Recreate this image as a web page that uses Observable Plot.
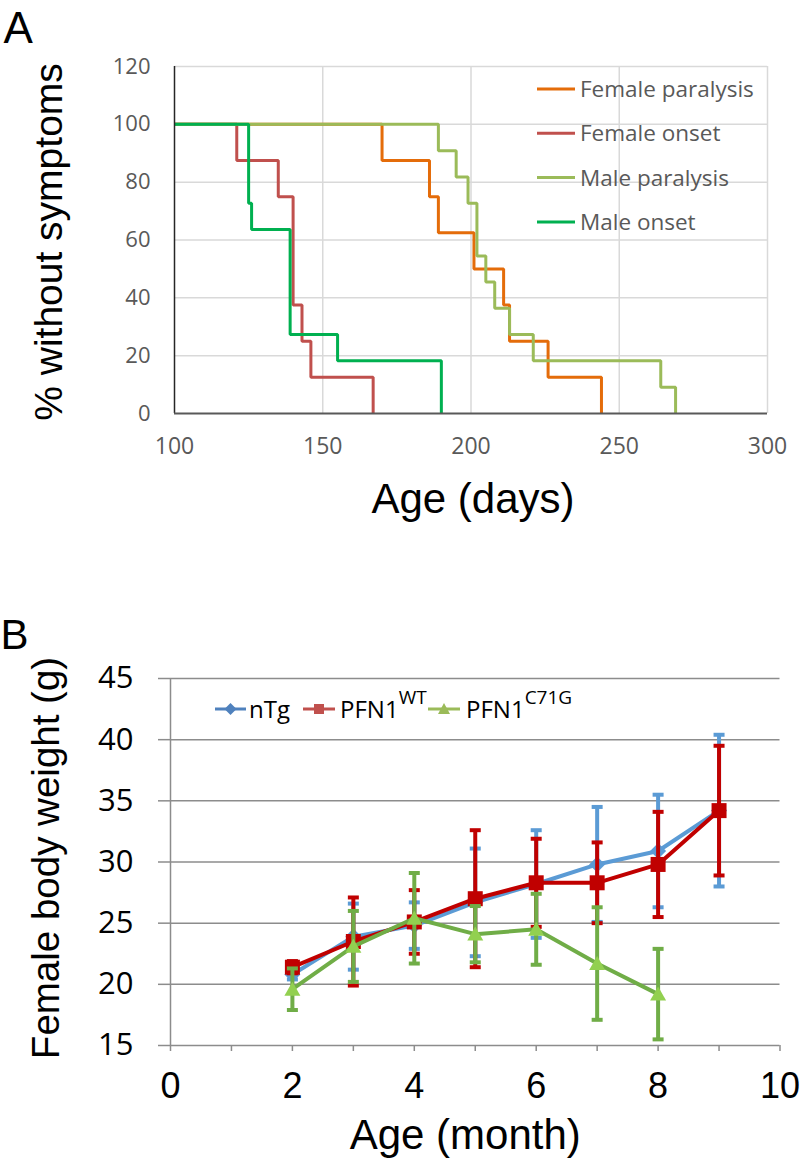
<!DOCTYPE html>
<html><head><meta charset="utf-8">
<script src="https://cdn.jsdelivr.net/npm/d3@7"></script>
<script src="https://cdn.jsdelivr.net/npm/@observablehq/plot@0.6"></script>
<style>
html,body{margin:0;padding:0;background:#fff;}
#wrap{position:relative;width:810px;height:1165px;overflow:hidden;background:#fff;}
#wrap svg{position:absolute;left:0;}
</style></head><body><div id="wrap"></div>
<script>
// ---------- Panel A: Kaplan-Meier style step curves ----------
const femaleParalysisDays = [100, 170, 186, 189, 201, 211, 213, 226, 244];
const femaleParalysisPct  = [100, 87.5, 75, 62.5, 50, 37.5, 25, 12.5, 0];
const femaleOnsetDays     = [100, 121, 135, 140, 143, 146, 167];
const femaleOnsetPct      = [100, 87.5, 75, 37.5, 25, 12.5, 0];
const maleParalysisDays   = [100, 189, 195, 199, 202, 205, 208, 213, 221, 264, 269];
const maleParalysisPct    = [100, 90.9, 81.8, 72.7, 54.5, 45.5, 36.4, 27.3, 18.2, 9.1, 0];
const maleOnsetDays       = [100, 125, 126, 139, 155, 190];
const maleOnsetPct        = [100, 72.7, 63.6, 27.3, 18.2, 0];
const seriesA = ["Female paralysis", "Female onset", "Male paralysis", "Male onset"];
const colorsA = ["#e46c0a", "#c0504d", "#9bbb59", "#00b050"];
const xTicksA = [100, 150, 200, 250, 300];
const yTicksA = [0, 20, 40, 60, 80, 100, 120];

// ---------- Panel B: female body weight ----------
const monthsB = [2, 3, 4, 5, 6, 7, 8, 9];
const nTgMean = [20.8, 23.9, 24.8, 26.7, 28.2, 29.8, 30.9, 34.2];
const nTgErr  = [0.4, 2.7, 1.9, 4.4, 4.4, 4.7, 4.6, 6.2];
const wtMean  = [21.4, 23.5, 25.1, 27.0, 28.3, 28.3, 29.8, 34.2];
const wtErr   = [0.5, 3.6, 2.6, 5.6, 3.6, 3.3, 4.3, 5.3];
const c71gMonths = [2, 3, 4, 5, 6, 7, 8];
const c71gMean = [19.6, 23.1, 25.4, 24.1, 24.5, 21.7, 19.2];
const c71gErr  = [1.7, 2.9, 3.7, 2.3, 2.9, 4.6, 3.7];
const xTicksB = [0, 1, 2, 3, 4, 5, 6, 7, 8, 9, 10];
const xLabelTicksB = [0, 2, 4, 6, 8, 10];
const yTicksB = [15, 20, 25, 30, 35, 40, 45];

const TITLE_FONT = "'Liberation Sans', Arial, sans-serif";
const TICK_FONT = "'Open Sans', sans-serif";

// tidy rows for panel A
const curvesA = [[femaleParalysisDays, femaleParalysisPct], [femaleOnsetDays, femaleOnsetPct],
                 [maleParalysisDays, maleParalysisPct], [maleOnsetDays, maleOnsetPct]];
const rowsA = [];
curvesA.forEach(([days, pct], k) => days.forEach((d, i) => rowsA.push({series: seriesA[k], day: d, pct: pct[i]})));

const titleOpts = {fontFamily: TITLE_FONT, fill: "black", lineAnchor: "middle", textAnchor: "middle"};

const plotA = Plot.plot({
  width: 810, height: 540,
  marginLeft: 174, marginRight: 43, marginTop: 66, marginBottom: 127,
  x: {domain: [100, 300]},
  y: {domain: [0, 120]},
  color: {domain: seriesA, range: colorsA},
  style: {fontFamily: TICK_FONT, fontSize: "21px", color: "#595959", background: "white"},
  marks: [
    Plot.ruleY(yTicksA.filter(v => v > 0), {stroke: "#d9d9d9", strokeWidth: 1.5}),
    Plot.ruleX(xTicksA.filter(v => v > 100), {stroke: "#d9d9d9", strokeWidth: 1.5}),
    Plot.line(rowsA, {x: "day", y: "pct", z: "series", stroke: "series", curve: "step-after", strokeWidth: 3, strokeLinecap: "butt", strokeLinejoin: "miter"}),
    Plot.ruleX([100], {stroke: "#262626", strokeWidth: 1.5}),
    Plot.ruleY([0], {stroke: "#595959", strokeWidth: 2}),
    Plot.axisY({ticks: yTicksA, tickSize: 0, tickPadding: 24, fontSize: 22, fill: "#595959", label: null}),
    Plot.axisX({ticks: xTicksA, tickSize: 0, tickPadding: 24, fontSize: 23, fill: "#595959", label: null}),
    Plot.text(["% without symptoms"], {...titleOpts, frameAnchor: "left", rotate: -90, dx: -124.5, dy: 2, fontSize: 39}),
    Plot.text(["Age (days)"], {...titleOpts, frameAnchor: "bottom", dx: 2, dy: 85.6, fontSize: 42}),
    Plot.text(["A"], {...titleOpts, frameAnchor: "top-left", textAnchor: "start", dx: -171, dy: -38, fontSize: 44})
  ]
});

// legend A
{
  const g = d3.select(plotA).append("g").attr("font-family", TICK_FONT).attr("font-size", 22.5)
    .attr("fill", "#595959").attr("text-anchor", "start");
  seriesA.forEach((s, i) => {
    const cy = 89 + i * 44.3;
    g.append("line").attr("x1", 537).attr("x2", 575).attr("y1", cy).attr("y2", cy)
      .attr("stroke", colorsA[i]).attr("stroke-width", 3);
    g.append("text").attr("x", 580).attr("y", cy + 8).attr("text-anchor", "start").text(s);
  });
}

// ---------- Panel B ----------
const symDiamond = {draw(ctx, size) { const r = Math.sqrt(size / Math.PI); ctx.moveTo(0, -r); ctx.lineTo(r, 0); ctx.lineTo(0, r); ctx.lineTo(-r, 0); ctx.closePath(); }};
const symSquare = {draw(ctx, size) { const r = Math.sqrt(size / Math.PI); ctx.moveTo(-r, -r); ctx.lineTo(r, -r); ctx.lineTo(r, r); ctx.lineTo(-r, r); ctx.closePath(); }};
const symTriangle = {draw(ctx, size) { const r = Math.sqrt(size / Math.PI); ctx.moveTo(0, -r * 0.95); ctx.lineTo(r, r * 0.8); ctx.lineTo(-r, r * 0.8); ctx.closePath(); }};
const symCap = {draw(ctx, size) { const r = Math.sqrt(size / Math.PI); ctx.moveTo(-r, 0); ctx.lineTo(r, 0); }};

function seriesB(months, mean, err) {
  return months.map((m, i) => ({month: m, mean: mean[i], lo: mean[i] - err[i], hi: mean[i] + err[i]}));
}
const nTgRows = seriesB(monthsB, nTgMean, nTgErr);
const wtRows = seriesB(monthsB, wtMean, wtErr);
const c71gRows = seriesB(c71gMonths, c71gMean, c71gErr);

function seriesMarks(rows, lineColor, barColor, markColor, symbol, r) {
  return [
    Plot.ruleX(rows, {x: "month", y1: "lo", y2: "hi", stroke: barColor, strokeWidth: 4}),
    Plot.dot(rows, {x: "month", y: "hi", symbol: symCap, r: 5.5, stroke: barColor, strokeWidth: 4, fill: "none"}),
    Plot.dot(rows, {x: "month", y: "lo", symbol: symCap, r: 5.5, stroke: barColor, strokeWidth: 4, fill: "none"}),
    Plot.line(rows, {x: "month", y: "mean", stroke: lineColor, strokeWidth: 4}),
    Plot.dot(rows, {x: "month", y: "mean", symbol, r, fill: markColor, stroke: "none"})
  ];
}

const plotB = Plot.plot({
  width: 810, height: 575,
  marginLeft: 170, marginRight: 30.5, marginTop: 88, marginBottom: 120,
  x: {domain: [0, 10]},
  y: {domain: [15, 45]},
  style: {fontFamily: TICK_FONT, fontSize: "24px", color: "black", background: "white"},
  marks: [
    Plot.ruleY(yTicksB.filter(v => v > 15), {stroke: "#8c8c8c", strokeWidth: 1.5}),
    Plot.ruleX([0], {stroke: "#8c8c8c", strokeWidth: 1.5}),
    Plot.ruleY([15], {stroke: "#8c8c8c", strokeWidth: 1.5}),
    Plot.axisY({ticks: yTicksB, tickSize: 12, stroke: "#8c8c8c", strokeWidth: 1.5, tickPadding: 25, fontSize: 31, fill: "black", label: null}),
    Plot.axisX({ticks: xTicksB, tickSize: 6, stroke: "#8c8c8c", strokeWidth: 1.5, tickFormat: () => "", label: null}),
    Plot.axisX({ticks: xLabelTicksB, tickSize: 0, tickPadding: 27, fontSize: 36, fontFamily: TITLE_FONT, fill: "black", label: null}),
    ...seriesMarks(nTgRows, "#5b9bd5", "#5b9bd5", "#5b9bd5", symDiamond, 8),
    ...seriesMarks(wtRows, "#c00000", "#c00000", "#c00000", symSquare, 7.5),
    ...seriesMarks(c71gRows, "#70ad47", "#70ad47", "#92d050", symTriangle, 8),
    Plot.text(["Female body weight (g)"], {...titleOpts, frameAnchor: "left", rotate: -90, dx: -124.3, dy: -4, fontSize: 38.5}),
    Plot.text(["Age (month)"], {...titleOpts, frameAnchor: "bottom", dx: -10, dy: 90, fontSize: 42}),
    Plot.text(["B"], {...titleOpts, frameAnchor: "top-left", textAnchor: "start", dx: -170, dy: -43.4, fontSize: 42})
  ]
});

// legend B
{
  const g = d3.select(plotB).append("g").attr("font-family", TICK_FONT).attr("font-size", 24)
    .attr("fill", "black").attr("text-anchor", "start");
  const cy = 119;
  const items = [
    {x1: 215, x2: 246, tx: 249, color: "#4f81bd", sym: "diamond", main: "nTg", sup: null},
    {x1: 303, x2: 335, tx: 340, color: "#c0504d", sym: "square", main: "PFN1", sup: "WT"},
    {x1: 428, x2: 460, tx: 466, color: "#9bbb59", sym: "triangle", main: "PFN1", sup: "C71G"}
  ];
  items.forEach(it => {
    g.append("line").attr("x1", it.x1).attr("x2", it.x2).attr("y1", cy).attr("y2", cy)
      .attr("stroke", it.color).attr("stroke-width", 3);
    const cx = (it.x1 + it.x2) / 2;
    let d;
    if (it.sym === "diamond") d = `M${cx},${cy-6}L${cx+6},${cy}L${cx},${cy+6}L${cx-6},${cy}Z`;
    else if (it.sym === "square") d = `M${cx-5},${cy-5}h10v10h-10Z`;
    else d = `M${cx},${cy-6}L${cx+6},${cy+5}L${cx-6},${cy+5}Z`;
    g.append("path").attr("d", d).attr("fill", it.color);
    const t = g.append("text").attr("x", it.tx).attr("y", cy + 9).attr("text-anchor", "start");
    t.append("tspan").text(it.main);
    if (it.sup) t.append("tspan").attr("dy", -14).attr("font-size", 19).text(it.sup);
  });
}

const wrap = document.getElementById("wrap");
plotA.style.top = "0px";
plotB.style.top = "590px";
wrap.appendChild(plotA);
wrap.appendChild(plotB);
</script>
</body></html>
